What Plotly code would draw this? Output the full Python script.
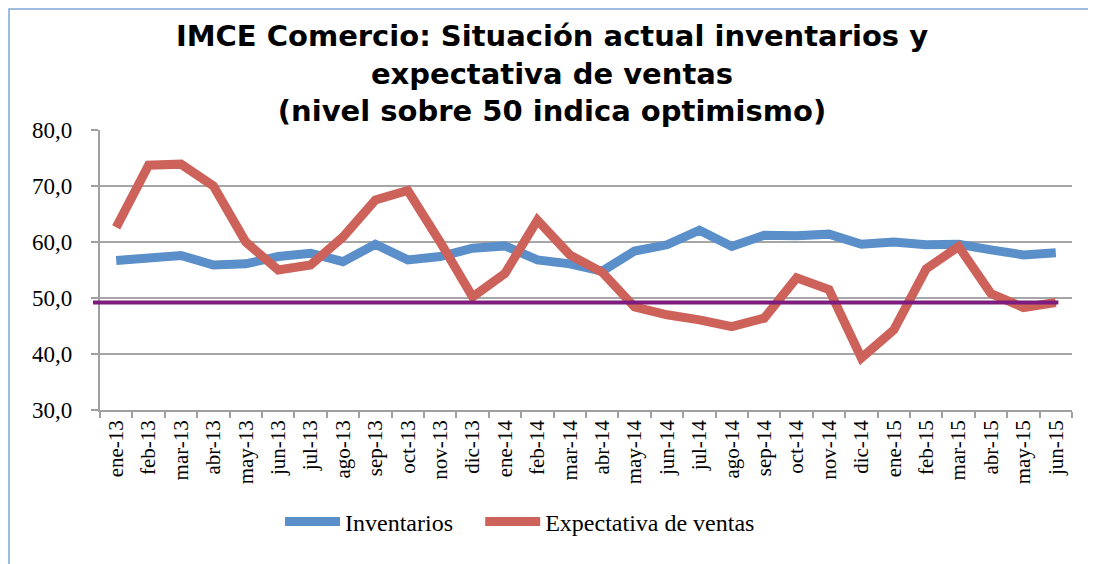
import plotly.graph_objects as go

months = ["ene-13","feb-13","mar-13","abr-13","may-13","jun-13","jul-13","ago-13","sep-13","oct-13",
          "nov-13","dic-13","ene-14","feb-14","mar-14","abr-14","may-14","jun-14","jul-14","ago-14",
          "sep-14","oct-14","nov-14","dic-14","ene-15","feb-15","mar-15","abr-15","may-15","jun-15"]
inventarios = [56.7, 57.2, 57.6, 55.9, 56.1, 57.4, 58.0, 56.5, 59.6, 56.8,
               57.4, 58.9, 59.3, 56.8, 56.1, 54.8, 58.4, 59.5, 62.1, 59.2,
               61.2, 61.1, 61.4, 59.6, 60.0, 59.5, 59.6, 58.6, 57.7, 58.1]
expectativa = [62.6, 73.7, 73.9, 70.0, 60.0, 55.0, 55.9, 60.9, 67.5, 69.2,
               60.0, 50.2, 54.4, 63.9, 57.7, 54.6, 48.4, 47.0, 46.1, 44.9,
               46.4, 53.6, 51.5, 39.3, 44.3, 55.2, 59.2, 50.8, 48.3, 49.2]
reference_level = 49.2
title_lines = ["IMCE Comercio: Situación actual inventarios y",
               "expectativa de ventas",
               "(nivel sobre 50 indica optimismo)"]
y_ticks = [30, 40, 50, 60, 70, 80]
y_tick_labels = ["30,0", "40,0", "50,0", "60,0", "70,0", "80,0"]

W, H = 1088, 556
ML, MR, MT, MB = 92, 24, 122, 154
PW, PH = W - ML - MR, H - MT - MB

fig = go.Figure()
fig.add_trace(go.Scatter(x=months, y=inventarios, mode="lines", name="Inventarios",
                         line=dict(color="#5B8FC9", width=9), legend="legend"))
fig.add_trace(go.Scatter(x=months, y=expectativa, mode="lines", name="Expectativa de ventas",
                         line=dict(color="#CC625A", width=9), legend="legend2"))

# reference line (drawn above the series like the original)
fig.add_shape(type="line", xref="paper", yref="y", x0=-7 / PW, x1=0.986,
              y0=reference_level, y1=reference_level,
              line=dict(color="#7D1C7D", width=4), layer="above")

# outer border
fig.add_shape(type="rect", xref="paper", yref="paper",
              x0=-(ML - 1) / PW, x1=(W - ML + 20) / PW, y0=-(MB + 20) / PH, y1=1 + (MT - 1) / PH,
              line=dict(color="#7FA6D6", width=1.5), layer="below")

# y tick labels, placed further from the axis like the original
for val, lab in zip(y_ticks, y_tick_labels):
    fig.add_annotation(x=-26 / PW, xref="paper", y=val, yref="y", text=lab,
                       showarrow=False, xanchor="right", yanchor="middle",
                       font=dict(family="Liberation Serif", size=23, color="black"))

legend_style = dict(orientation="h", xanchor="left", xref="container", yref="container",
                    y=0.0755, yanchor="middle", bgcolor="rgba(0,0,0,0)",
                    font=dict(family="Liberation Serif", size=24, color="black"),
                    itemwidth=55, tracegroupgap=0)

fig.update_layout(
    width=W, height=H,
    margin=dict(l=ML, r=MR, t=MT, b=MB, autoexpand=False),
    paper_bgcolor="white", plot_bgcolor="white",
    separators=",.",
    title=dict(text="<br>".join(title_lines), x=0.5, xanchor="center",
               y=0.932, yanchor="top",
               font=dict(family="DejaVu Sans", size=29, color="black", weight="bold")),
    showlegend=True,
    legend=dict(x=0.25, **legend_style),
    legend2=dict(x=0.434, **legend_style),
    xaxis=dict(type="category", tickangle=-90, showgrid=False, automargin=False,
               showline=True, linecolor="#A0A0A0", linewidth=1.5,
               ticks="outside", tickson="boundaries", ticklen=6, tickcolor="#A0A0A0", tickwidth=1.5,
               tickfont=dict(family="Liberation Serif", size=21, color="black"),
               range=[-0.5, len(months) - 0.5]),
    yaxis=dict(range=[30, 80], tickvals=y_ticks, showticklabels=False, automargin=False,
               showgrid=True, gridcolor="#A6A6A6", gridwidth=1.5,
               showline=True, linecolor="#A0A0A0", linewidth=1.5,
               ticks="outside", ticklen=7, tickcolor="#A0A0A0", tickwidth=1.5,
               zeroline=False),
)

fig.write_html("out.html")
